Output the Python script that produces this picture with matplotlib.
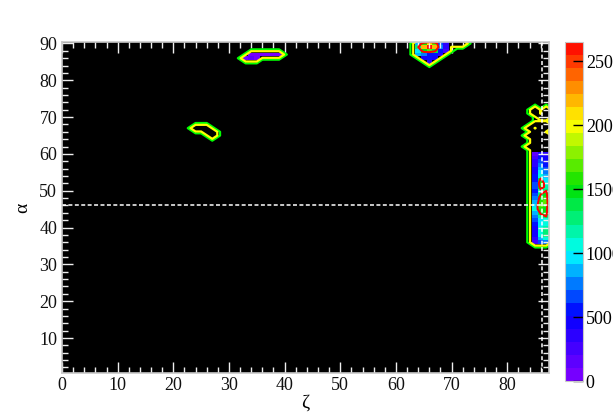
import numpy as np
import matplotlib.pyplot as plt
from matplotlib.colors import LinearSegmentedColormap, ListedColormap, BoundaryNorm

plt.rcParams['font.family'] = ['Liberation Serif', 'DejaVu Serif']

# cell centres of the histogram (zeta columns, alpha rows)
zeta = np.arange(0, 90)
alpha = np.arange(1, 92)

# top-left patch
p1_zeta = [33, 34, 35, 36, 37, 38, 39]
p1_alpha = [87, 86]
p1_vals = [[0, 70, 90, 60, 50, 80, 60],
           [60, 120, 50, 0, 0, 0, 0]]

# top-right patch
p2_zeta = [64, 65, 66, 67, 68, 69]
p2_alpha = [90, 89, 88, 87, 86, 85]
p2_vals = [[900, 1600, 2000, 1700, 700, 400],
           [1300, 2200, 2650, 2200, 800, 400],
           [1000, 1500, 1700, 1400, 600, 300],
           [900, 800, 600, 600, 400, 0],
           [0, 500, 600, 500, 0, 0],
           [0, 0, 400, 0, 0, 0]]

# strip along the right edge
p3_zeta = [85, 86, 87]
p3_alpha = list(range(60, 35, -1))
p3_vals = [[200, 500, 400],
           [300, 600, 500],
           [400, 700, 500],
           [400, 800, 600],
           [500, 900, 700],
           [500, 1000, 800],
           [600, 1100, 900],
           [600, 1400, 1000],
           [700, 1600, 1100],
           [700, 1450, 1200],
           [600, 1200, 1300],
           [700, 1300, 1500],
           [800, 1500, 1600],
           [900, 1600, 1700],
           [1000, 1700, 1600],
           [1100, 1550, 1500],
           [900, 1350, 1500],
           [800, 1200, 1300],
           [700, 1000, 1100],
           [600, 950, 1100],
           [500, 1050, 1200],
           [500, 1100, 1250],
           [500, 1100, 1250],
           [400, 900, 1100],
           [300, 700, 800]]

# cells that only show up in the contour lines
ghost_zeta = [70, 71, 72,
              24, 25, 26, 26, 27, 27,
              85, 87, 85, 87, 86, 87,
              85, 86, 87, 84, 86, 87, 85, 86,
              84, 85, 86, 87, 85, 86, 87, 85, 86, 87,
              84, 85, 86, 87, 85, 86, 87]
ghost_alpha = [90, 90, 90,
               67, 67, 67, 66, 66, 65,
               72, 72, 71, 71, 70, 70,
               68, 68, 68, 67, 67, 67, 66, 66,
               65, 65, 65, 65, 64, 64, 64, 63, 63, 63,
               62, 62, 62, 62, 61, 61, 61]

z_max = 2650
n_levels = 26
cbar_ticks = [0, 500, 1000, 1500, 2000, 2500]

# fill the grid
Z = np.zeros((len(alpha), len(zeta)))
for zs, als, vals in [(p1_zeta, p1_alpha, p1_vals),
                      (p2_zeta, p2_alpha, p2_vals),
                      (p3_zeta, p3_alpha, p3_vals)]:
    for i, a in enumerate(als):
        for j, z in enumerate(zs):
            Z[a - alpha[0], z - zeta[0]] = vals[i][j]

# support field for the green / yellow outlines
S = (Z > 0).astype(float)
for z, a in zip(ghost_zeta, ghost_alpha):
    S[a - alpha[0], z - zeta[0]] = 1.0
ring = np.zeros_like(S)
ring[1:, :] = np.maximum(ring[1:, :], S[:-1, :])
ring[:-1, :] = np.maximum(ring[:-1, :], S[1:, :])
ring[:, 1:] = np.maximum(ring[:, 1:], S[:, :-1])
ring[:, :-1] = np.maximum(ring[:, :-1], S[:, 1:])
F = np.maximum(S, 0.5 * ring)

# ROOT-like rainbow palette
base = LinearSegmentedColormap.from_list("root", [
    (0.0, (0.50, 0.0, 1.0)),
    (0.2, (0.0, 0.0, 1.0)),
    (0.38, (0.0, 1.0, 1.0)),
    (0.57, (0.0, 0.88, 0.0)),
    (0.76, (1.0, 1.0, 0.0)),
    (1.0, (1.0, 0.0, 0.0))])
cmap = ListedColormap(base((np.arange(n_levels) + 0.5) / n_levels))
bounds = np.linspace(0, z_max, n_levels + 1)
norm = BoundaryNorm(bounds, cmap.N)

fig = plt.figure(figsize=(6.13, 4.15), dpi=100)
ax = fig.add_axes([62 / 613, 1 - 373 / 415, 487 / 613, 331 / 415])
cax = fig.add_axes([565 / 613, 1 - 381 / 415, 18 / 613, 339 / 415])

ax.set_facecolor("black")
zeta_edges = np.append(zeta - 0.5, zeta[-1] + 0.5)
alpha_edges = np.append(alpha - 0.5, alpha[-1] + 0.5)
mesh = ax.pcolormesh(zeta_edges, alpha_edges, np.ma.masked_equal(Z, 0),
                     cmap=cmap, norm=norm)

ax.contour(zeta, alpha, F, levels=[0.3], colors="#00ff00", linewidths=1.6)
ax.contour(zeta, alpha, F, levels=[0.55], colors="#ffff00", linewidths=1.6)
ax.contour(zeta, alpha, Z, levels=[1300], colors="#ff0000", linewidths=1.4)

ax.axhline(46.1, color="white", lw=1.1, dashes=(2.6, 1.6))
ax.axvline(86.3, color="white", lw=1.1, dashes=(2.6, 1.6))

ax.set_xlim(0, 87.5)
ax.set_ylim(0.5, 90.4)
ax.set_xticks(range(0, 90, 10))
ax.set_xticks(range(0, 88, 2), minor=True)
ax.set_yticks(range(10, 91, 10))
ax.set_yticks(range(2, 91, 2), minor=True)
ax.tick_params(which="both", direction="in", top=True, right=True,
               color="#eeeeee", labelsize=13, labelcolor="#111111")
ax.tick_params(which="major", length=8, width=1)
ax.tick_params(which="minor", length=4, width=1)
ax.tick_params(axis="x", pad=3)
for s in ax.spines.values():
    s.set_color("#c8c8c8")
    s.set_linewidth(1.2)

ax.set_xlabel("ζ", fontsize=14, labelpad=0)
ax.set_ylabel("α", fontsize=14, labelpad=6)

cbar = fig.colorbar(mesh, cax=cax, ticks=cbar_ticks)
cbar.outline.set_edgecolor("#c8c8c8")
cbar.outline.set_linewidth(0.8)
cbar.ax.minorticks_off()
cbar.ax.tick_params(direction="in", length=7, width=1, color="black",
                    labelsize=13, pad=2)

fig.savefig("out.png", dpi=100)
